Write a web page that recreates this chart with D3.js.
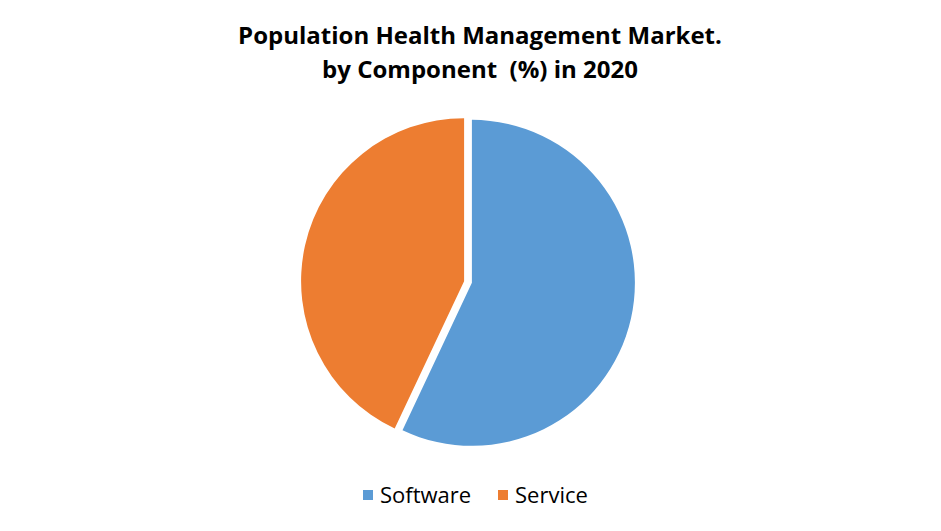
<!DOCTYPE html>
<html><head><meta charset="utf-8">
<script src="https://cdn.jsdelivr.net/npm/d3@7"></script>
<style>body{margin:0;background:#fff} text{white-space:pre}</style>
</head><body>
<svg id="c" width="941" height="531"></svg>
<script>
const categories = ["Software", "Service"];
const values = [57, 43];
const colors = ["#5B9BD5", "#ED7D31"];
const titleLines = ["Population Health Management Market.", "by Component  (%) in 2020"];

const svg = d3.select("#c");
const cx = 468, cy = 282, r = 163, explode = 4;

svg.selectAll("text.title").data(titleLines).enter().append("text")
  .attr("class","title")
  .attr("x", 480).attr("y", (d,i)=>44 + i*34)
  .attr("text-anchor","middle")
  .attr("font-family","'Open Sans', sans-serif")
  .attr("font-weight","bold").attr("font-size", 24).attr("fill","#000")
  .text(d=>d);

const pie = d3.pie().sort(null).value(d=>d);
const arc = d3.arc().innerRadius(0).outerRadius(r);
const arcs = pie(values);
svg.append("g").attr("transform",`translate(${cx},${cy})`)
  .selectAll("path").data(arcs).enter().append("path")
  .attr("d", arc)
  .attr("fill",(d,i)=>colors[i])
  .attr("transform", d=>{
    const a = (d.startAngle + d.endAngle)/2;
    return `translate(${Math.sin(a)*explode},${-Math.cos(a)*explode})`;
  });

const legendX = [363, 498];
const lg = svg.append("g");
categories.forEach((c,i)=>{
  lg.append("rect").attr("x", legendX[i]).attr("y", 490).attr("width",10).attr("height",10).attr("fill",colors[i]);
  lg.append("text").attr("x", legendX[i]+17).attr("y", 503)
    .attr("font-family","'Open Sans', sans-serif").attr("font-size",22).attr("fill","#000")
    .text(c);
});
</script>
</body></html>
